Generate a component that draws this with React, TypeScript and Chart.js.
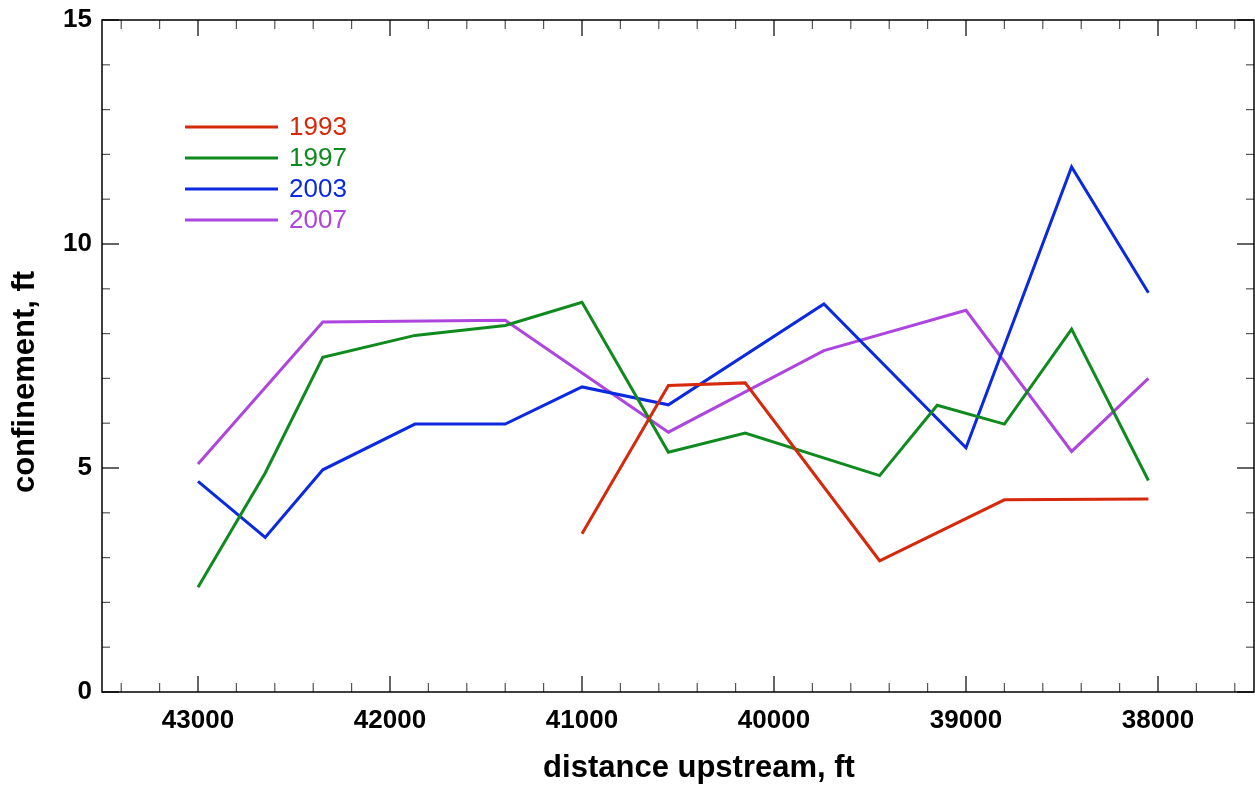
import React, { useEffect, useRef } from "react";
import { Chart, registerables } from "chart.js";

Chart.register(...registerables);

// ---- data ----
const seriesLabels = ["1993", "1997", "2003", "2007"];
const seriesColors = ["#d6280a", "#0f8a1e", "#0b2ae0", "#ad45de"];

const distances1993 = [41000, 40550, 40150, 39450, 38800, 38050];
const confinement1993 = [3.53, 6.84, 6.9, 2.93, 4.29, 4.31];

const distances1997 = [43000, 42650, 42350, 41870, 41400, 41000, 40550, 40150, 39450, 39150, 38800, 38450, 38050];
const confinement1997 = [2.34, 4.89, 7.47, 7.96, 8.18, 8.7, 5.35, 5.78, 4.83, 6.4, 5.98, 8.1, 4.72];

const distances2003 = [43000, 42650, 42350, 41870, 41400, 41000, 40550, 39740, 39000, 38450, 38050];
const confinement2003 = [4.7, 3.45, 4.96, 5.98, 5.98, 6.81, 6.41, 8.66, 5.45, 11.72, 8.91];

const distances2007 = [43000, 42350, 41400, 40550, 39740, 39000, 38450, 38050];
const confinement2007 = [5.09, 8.26, 8.3, 5.8, 7.62, 8.52, 5.37, 7.0];

const xTickValues = [43000, 42000, 41000, 40000, 39000, 38000];
const yTickValues = [0, 5, 10, 15];
const X_MIN = 37500;
const X_MAX = 43500;
const Y_MIN = 0;
const Y_MAX = 15;
const X_MINOR_STEP = 200;
const Y_MINOR_STEP = 1;

const xTitle = "distance upstream, ft";
const yTitle = "confinement, ft";

const FONT = '"Liberation Sans", Arial, Helvetica, sans-serif';

const toPoints = (xs: number[], ys: number[]) => xs.map((x, i) => ({ x, y: ys[i] }));

const allDistances = [distances1993, distances1997, distances2003, distances2007];
const allConfinement = [confinement1993, confinement1997, confinement2003, confinement2007];

const framePlugin = {
  id: "frameTicksLegend",
  afterDraw(chart: any) {
    const { ctx, chartArea: a, scales } = chart;
    const xs = scales.x;
    const ys = scales.y;
    ctx.save();

    const seg = (x1: number, y1: number, x2: number, y2: number) => {
      ctx.beginPath();
      ctx.moveTo(x1, y1);
      ctx.lineTo(x2, y2);
      ctx.stroke();
    };

    // minor ticks
    ctx.lineWidth = 1.2;
    ctx.strokeStyle = "#555";
    for (let v = Math.ceil(X_MIN / X_MINOR_STEP) * X_MINOR_STEP; v <= X_MAX; v += X_MINOR_STEP) {
      if (xTickValues.includes(v)) continue;
      const px = xs.getPixelForValue(v);
      seg(px, a.bottom, px, a.bottom - 9);
      seg(px, a.top, px, a.top + 9);
    }
    for (let v = Y_MIN; v <= Y_MAX; v += Y_MINOR_STEP) {
      if (yTickValues.includes(v)) continue;
      const py = ys.getPixelForValue(v);
      seg(a.left, py, a.left + 8, py);
      seg(a.right, py, a.right - 8, py);
    }
    // major ticks
    ctx.lineWidth = 1.3;
    ctx.strokeStyle = "#111";
    xTickValues.forEach((v) => {
      const px = xs.getPixelForValue(v);
      seg(px, a.bottom, px, a.bottom - 16);
      seg(px, a.top, px, a.top + 16);
    });
    yTickValues.forEach((v) => {
      const py = ys.getPixelForValue(v);
      seg(a.left, py, a.left + 17, py);
      seg(a.right, py, a.right - 17, py);
    });

    // frame
    ctx.lineWidth = 1.5;
    ctx.strokeStyle = "#000";
    ctx.strokeRect(a.left, a.top, a.right - a.left, a.bottom - a.top);

    // legend
    ctx.font = `26px ${FONT}`;
    ctx.textBaseline = "middle";
    ctx.textAlign = "left";
    chart.data.datasets.forEach((ds: any, i: number) => {
      const y = a.top + 107 + i * 31;
      ctx.strokeStyle = ds.borderColor;
      ctx.lineWidth = 3;
      seg(a.left + 83, y, a.left + 176, y);
      ctx.fillStyle = ds.borderColor;
      ctx.fillText(ds.label, a.left + 187, y + 1);
    });

    // axis titles
    ctx.fillStyle = "#000";
    ctx.font = `bold 31px ${FONT}`;
    ctx.textAlign = "center";
    ctx.textBaseline = "alphabetic";
    ctx.fillText(xTitle, 699, 777);
    ctx.save();
    ctx.translate(34, 382);
    ctx.rotate(-Math.PI / 2);
    ctx.fillText(yTitle, 0, 0);
    ctx.restore();

    ctx.restore();
  },
};

export default function App() {
  const ref = useRef<HTMLCanvasElement | null>(null);

  useEffect(() => {
    if (!ref.current) return;
    const chart = new Chart(ref.current, {
      type: "line",
      data: {
        datasets: seriesLabels.map((label, i) => ({
          label,
          data: toPoints(allDistances[i], allConfinement[i]),
          borderColor: seriesColors[i],
          backgroundColor: seriesColors[i],
          borderWidth: 3,
          pointRadius: 0,
          tension: 0,
          fill: false,
        })),
      },
      options: {
        animation: false,
        responsive: false,
        devicePixelRatio: 1,
        layout: { padding: { left: 0, top: 20, right: 1, bottom: 0 } },
        plugins: {
          legend: { display: false },
          tooltip: { enabled: false },
          title: { display: false },
        },
        scales: {
          x: {
            type: "linear",
            min: X_MIN,
            max: X_MAX,
            reverse: true,
            afterBuildTicks: (scale: any) => {
              scale.ticks = xTickValues.map((value) => ({ value }));
            },
            afterFit: (scale: any) => {
              scale.height = 96;
              scale.paddingLeft = 0;
              scale.paddingRight = 0;
            },
            grid: { display: false, drawTicks: false },
            border: { display: false },
            ticks: {
              autoSkip: false,
              maxRotation: 0,
              padding: 13,
              color: "#000",
              font: { family: FONT, size: 26, weight: "bold" },
              callback: (v: any) => String(v),
            },
          },
          y: {
            type: "linear",
            min: Y_MIN,
            max: Y_MAX,
            afterBuildTicks: (scale: any) => {
              scale.ticks = yTickValues.map((value) => ({ value }));
            },
            afterFit: (scale: any) => {
              scale.width = 102;
              scale.paddingTop = 0;
              scale.paddingBottom = 0;
            },
            grid: { display: false, drawTicks: false },
            border: { display: false },
            ticks: {
              padding: 10,
              color: "#000",
              font: { family: FONT, size: 26, weight: "bold" },
              callback: (v: any) => String(v),
            },
          },
        },
      },
      plugins: [framePlugin],
    });
    return () => chart.destroy();
  }, []);

  return (
    <div style={{ position: "absolute", left: 0, top: 0, width: 1255, height: 788, background: "#fff" }}>
      <canvas ref={ref} width={1255} height={788} style={{ display: "block" }} />
    </div>
  );
}
